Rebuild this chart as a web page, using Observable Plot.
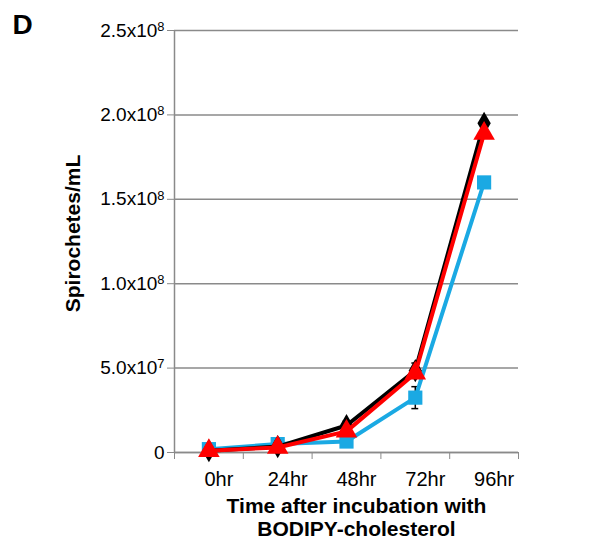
<!DOCTYPE html>
<html><head><meta charset="utf-8">
<script src="https://cdn.jsdelivr.net/npm/d3@7"></script>
<script src="https://cdn.jsdelivr.net/npm/@observablehq/plot@0.6"></script>
<style>body{margin:0;background:#fff;font-family:"Liberation Sans",Arial,sans-serif}</style>
</head><body><div id="chart"></div>
<script>
const categories = ["0hr", "24hr", "48hr", "72hr", "96hr"];
const blackValues = [1.0e6, 3.5e6, 1.6e7, 4.85e7, 1.95e8];
const redValues   = [1.0e6, 3.0e6, 1.25e7, 4.7e7, 1.89e8];
const blueValues  = [2.0e6, 5.0e6, 6.5e6, 3.25e7, 1.6e8];
const blackErr = [0.5e6, 1.0e6, 2.5e6, 4.5e6, 2.0e6];
const redErr   = [0.5e6, 1.0e6, 1.5e6, 2.0e6, 2.0e6];
const blueErr  = [0.5e6, 1.0e6, 1.5e6, 6.5e6, 1.0e6];
const yTicks = [0, 5e7, 1e8, 1.5e8, 2e8, 2.5e8];
const yTickLabels = ["0", "5.0x10^7", "1.0x10^8", "1.5x10^8", "2.0x10^8", "2.5x10^8"];
const xTitle = "Time after incubation with\nBODIPY-cholesterol";
const yTitle = "Spirochetes/mL";
const panelLabel = "D";

const colors = {black: "#000000", red: "#ff0000", blue: "#1aa9e3", err: "#000000"};
const rows = (name, vals, errs) => vals.map((v, i) => ({series: name, i, cat: categories[i], v, e: errs[i]}));
const blackRows = rows("black", blackValues, blackErr);
const redRows = rows("red", redValues, redErr);
const blueRows = rows("blue", blueValues, blueErr);

const errMarks = (data) => [
  Plot.ruleX(data, {x: "i", y1: d => d.v - d.e, y2: d => d.v + d.e, stroke: colors.err, strokeWidth: 1.5}),
  Plot.ruleY(data, {y: d => d.v + d.e, x1: d => d.i - 0.05, x2: d => d.i + 0.05, stroke: colors.err, strokeWidth: 1.5}),
  Plot.ruleY(data, {y: d => d.v - d.e, x1: d => d.i - 0.05, x2: d => d.i + 0.05, stroke: colors.err, strokeWidth: 1.5})
];

const chart = Plot.plot({
  width: 597, height: 543,
  marginLeft: 174, marginRight: 79, marginTop: 30, marginBottom: 91,
  style: {fontFamily: '"Liberation Sans", Arial, sans-serif', fontSize: "19px", color: "#000", background: "#fff"},
  x: {type: "linear", domain: [-0.5, categories.length - 0.5]},
  y: {domain: [0, 2.5e8]},
  marks: [
    Plot.gridY(yTicks, {stroke: "#8a8a8a", strokeOpacity: 1, strokeWidth: 1.5}),
    Plot.axisY(yTicks, {tickFormat: (d, i) => yTickLabels[i], tickSize: 7, tickPadding: 3, stroke: "#8a8a8a", fill: "#000", fontSize: 19, label: null}),
    Plot.axisX(d3.range(-0.5, categories.length, 1), {tickFormat: () => "", tickSize: 7, stroke: "#8a8a8a", label: null}),
    Plot.ruleX([-0.5], {stroke: "#8a8a8a", strokeWidth: 1.5}),
    Plot.ruleY([0], {stroke: "#8a8a8a", strokeWidth: 1.5}),
    Plot.text(categories, {x: (d, i) => i, frameAnchor: "bottom", dy: 33, dx: 10, fontSize: 20}),
    Plot.text([xTitle], {frameAnchor: "bottom", dy: 44, dx: 10, lineAnchor: "top", lineHeight: 1.1, fontSize: 21, fontWeight: "bold"}),
    Plot.text([yTitle], {frameAnchor: "left", textAnchor: "middle", dx: -101, dy: -8, rotate: -90, fontSize: 21, fontWeight: "bold"}),
    Plot.text([panelLabel], {frameAnchor: "top-left", dx: -162, dy: -16, textAnchor: "start", lineAnchor: "top", fontSize: 28, fontWeight: "bold"}),
    ...errMarks(blueRows),
    ...errMarks(blackRows),
    ...errMarks(redRows),
    Plot.line(blueRows, {x: "i", y: "v", stroke: colors.blue, strokeWidth: 4}),
    Plot.dot(blueRows, {x: "i", y: "v", symbol: "square", r: 8, fill: colors.blue}),
    Plot.line(blackRows, {x: "i", y: "v", stroke: colors.black, strokeWidth: 4}),
    Plot.dot(blackRows, {x: "i", y: "v", symbol: "diamond", r: 7, fill: colors.black}),
    Plot.line(redRows, {x: "i", y: "v", stroke: colors.red, strokeWidth: 4}),
    Plot.dot(redRows, {x: "i", y: "v", symbol: "triangle", r: 8, fill: colors.red})
  ]
});
// render "x10^n" tick labels with a real superscript
d3.select(chart).selectAll("text").each(function() {
  const t = this.textContent;
  const m = /^(.*)\^(\d+)$/.exec(t);
  if (m) {
    const sel = d3.select(this);
    sel.text(m[1]);
    sel.append("tspan").attr("dy", "-0.45em").attr("font-size", "0.68em").text(m[2]);
  }
});
document.getElementById("chart").append(chart);
</script>
</body></html>
